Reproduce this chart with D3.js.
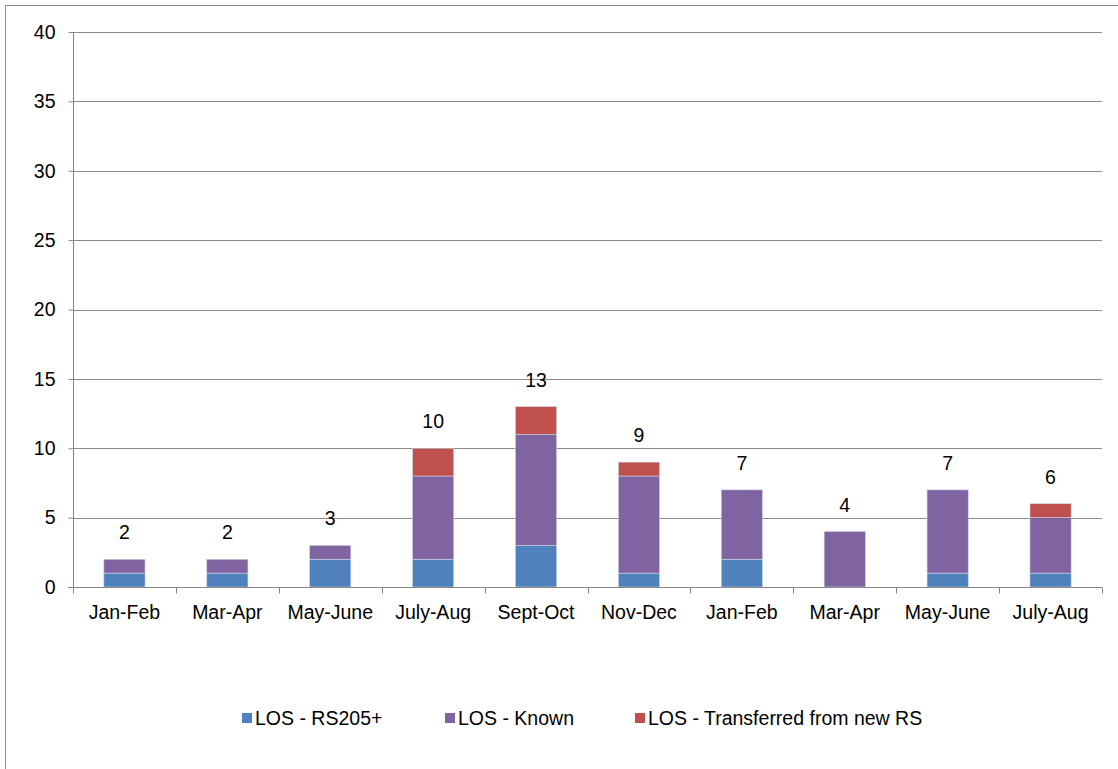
<!DOCTYPE html>
<html><head><meta charset="utf-8">
<script src="https://cdn.jsdelivr.net/npm/d3@7"></script>
<style>body{margin:0;background:#fff}svg{display:block}text{font-family:"Liberation Sans",Arial,sans-serif;fill:#000}</style>
</head><body><svg id="c" width="1118" height="769"></svg>
<script>
const categories = ["Jan-Feb","Mar-Apr","May-June","July-Aug","Sept-Oct","Nov-Dec","Jan-Feb","Mar-Apr","May-June","July-Aug"];
const seriesNames = ["LOS - RS205+","LOS - Known","LOS - Transferred from new RS"];
const rs205 = [1,1,2,2,3,1,2,0,1,1];
const known = [1,1,1,6,8,7,5,4,6,4];
const transferred = [0,0,0,2,2,1,0,0,0,1];
const totals = [2,2,3,10,13,9,7,4,7,6];
const yTicks = [0,5,10,15,20,25,30,35,40];
const colors = ["#4F81BD","#8064A2","#C0504D"];

(function(){
const svg = d3.select("#c");
const pL = 73, pR = 1102, pT = 32, pB = 587;
const fs = 19.5;
svg.append("rect").attr("x",5.5).attr("y",5.5).attr("width",1120).attr("height",780)
  .attr("fill","none").attr("stroke","#8c8c8c").attr("stroke-width",1);

const idx = categories.map((c,i)=>i);
const x = d3.scaleBand().domain(idx).range([pL,pR]).paddingInner(0.6).paddingOuter(0.3);
const xOuter = d3.scaleBand().domain(idx).range([pL,pR]);
const y = d3.scaleLinear().domain([0,40]).range([pB,pT]);

svg.append("g").selectAll("line").data(yTicks.filter(d=>d>0)).join("line")
  .attr("x1",pL).attr("x2",pR).attr("y1",d=>Math.round(y(d))+0.5).attr("y2",d=>Math.round(y(d))+0.5)
  .attr("stroke","#8c8c8c").attr("stroke-width",1);

const rows = idx.map(i=>({i, a:rs205[i], b:known[i], c:transferred[i]}));
const stack = d3.stack().keys(["a","b","c"])(rows);
stack.forEach((layer,k)=>{
  svg.append("g").selectAll("rect").data(layer.filter(d=>d[1]-d[0]>0)).join("rect")
    .attr("x",d=>x(d.data.i)).attr("width",x.bandwidth())
    .attr("y",d=>y(d[1])).attr("height",d=>y(d[0])-y(d[1]))
    .attr("fill",colors[k]).attr("stroke","#c9d3e6").attr("stroke-width",0.6);
});

svg.append("g").selectAll("text").data(idx).join("text")
  .attr("x",i=>x(i)+x.bandwidth()/2).attr("y",i=>y(totals[i])-20)
  .attr("text-anchor","middle").attr("font-size",fs).text(i=>totals[i]);

const yAxis = svg.append("g").attr("transform",`translate(${pL+0.5},0)`)
  .call(d3.axisLeft(y).tickValues(yTicks).tickSize(5).tickPadding(13));
yAxis.selectAll("text").attr("font-size",fs).style("font-family","Liberation Sans, Arial, sans-serif").attr("fill","#000");
yAxis.selectAll("line,path").attr("stroke","#868686");
yAxis.select(".domain").attr("d",`M0,${pT}V${pB}`);

const xg = svg.append("g").attr("transform",`translate(0,${pB+0.5})`);
xg.append("line").attr("x1",pL-5).attr("x2",pR).attr("stroke","#868686");
xg.selectAll("line.t").data(d3.range(categories.length+1)).join("line").attr("class","t")
  .attr("x1",i=>Math.round(pL + i*xOuter.step())+0.5).attr("x2",i=>Math.round(pL + i*xOuter.step())+0.5)
  .attr("y1",0).attr("y2",6).attr("stroke","#868686");
xg.selectAll("text").data(idx).join("text")
  .attr("x",i=>xOuter(i)+xOuter.bandwidth()/2).attr("y",31)
  .attr("text-anchor","middle").attr("font-size",fs).text(i=>categories[i]);

const legX = [242,445,635];
const lg = svg.append("g");
seriesNames.forEach((n,k)=>{
  lg.append("rect").attr("x",legX[k]).attr("y",713).attr("width",10).attr("height",10).attr("fill",colors[k]);
  lg.append("text").attr("x",legX[k]+13).attr("y",725).attr("font-size",fs).text(n);
});
})();
</script></body></html>
